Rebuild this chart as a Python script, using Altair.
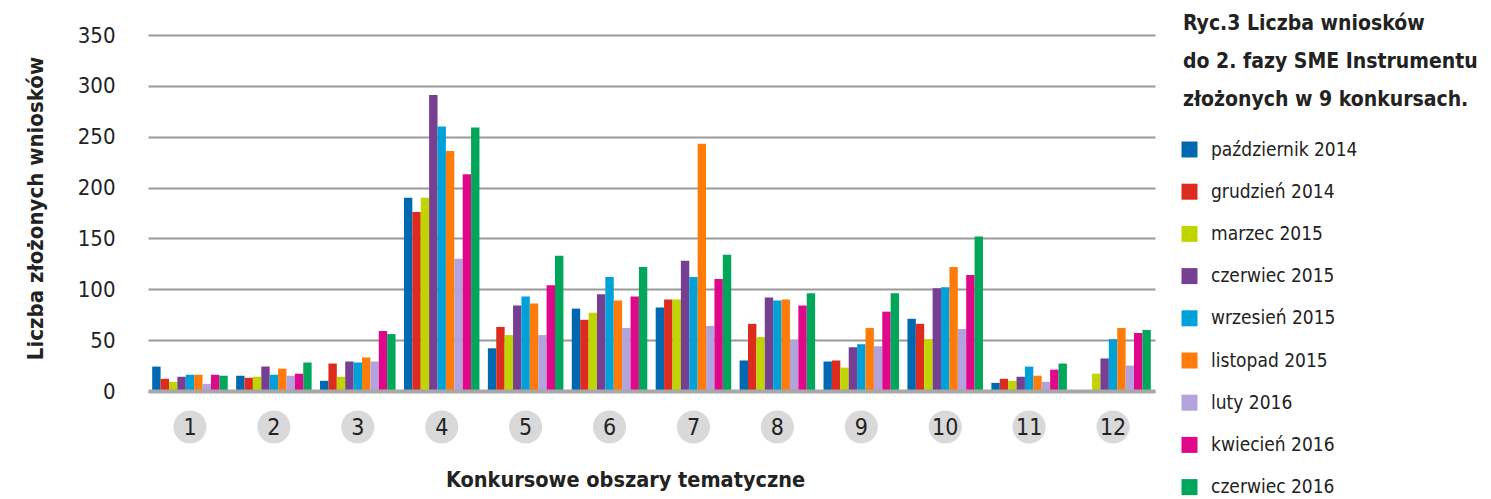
import altair as alt
import pandas as pd

groups = ["1", "2", "3", "4", "5", "6", "7", "8", "9", "10", "11", "12"]
series = ["październik 2014", "grudzień 2014", "marzec 2015", "czerwiec 2015",
          "wrzesień 2015", "listopad 2015", "luty 2016", "kwiecień 2016", "czerwiec 2016"]
colors = ["#0068b1", "#dc2b1f", "#bfd400", "#773f91", "#00a0d8",
          "#ff7b0a", "#b2a3dd", "#df088a", "#00a65a"]

# values per series, over groups 1..12
paz2014 = [24, 15, 10, 190, 42, 81, 82, 30, 29, 71, 8, 0]
gru2014 = [12, 13, 27, 176, 63, 70, 90, 66, 30, 66, 12, 0]
mar2015 = [9, 14, 14, 190, 55, 77, 90, 53, 23, 51, 10, 17]
cze2015 = [14, 24, 29, 291, 84, 95, 128, 92, 43, 101, 14, 32]
wrz2015 = [16, 16, 28, 260, 93, 112, 112, 89, 46, 102, 24, 51]
lis2015 = [16, 22, 33, 236, 86, 89, 243, 90, 62, 122, 15, 62]
lut2016 = [7, 15, 29, 130, 55, 62, 64, 50, 44, 61, 9, 25]
kwi2016 = [16, 17, 59, 213, 104, 93, 110, 84, 78, 114, 21, 57]
cze2016 = [15, 28, 56, 259, 133, 122, 134, 96, 96, 152, 27, 60]

all_vals = [paz2014, gru2014, mar2015, cze2015, wrz2015, lis2015, lut2016, kwi2016, cze2016]

rows = []
for s, vals in zip(series, all_vals):
    for g, v in zip(groups, vals):
        rows.append({"obszar": g, "konkurs": s, "liczba": v})
df = pd.DataFrame(rows)
circ_df = pd.DataFrame({"obszar": groups})

title_lines = ["Ryc.3 Liczba wniosków", "do 2. fazy SME Instrumentu", "złożonych w 9 konkursach."]
title_df = pd.DataFrame({"t": [0]})

FONT = "DejaVu Sans Condensed, Liberation Sans Narrow, Roboto, sans-serif"
W, H = 1007, 356

xscale = alt.Scale(domain=groups, paddingInner=0.1, paddingOuter=0.05)

bars = alt.Chart(df).mark_bar().encode(
    x=alt.X("obszar:N", scale=xscale, sort=groups,
            axis=alt.Axis(title="Konkursowe obszary tematyczne", labelAngle=0,
                          labelFontSize=23, labelColor="#222", labelBaseline="middle",
                          labelPadding=36, ticks=False, tickSize=0,
                          domainColor="#a8a8a8", domainWidth=4, zindex=1,
                          titleFontSize=21.5, titleFontWeight="bold", titleColor="#222",
                          titleX=477, titleY=89, titleBaseline="middle")),
    xOffset=alt.XOffset("konkurs:N", sort=series, scale=alt.Scale(domain=series)),
    y=alt.Y("liczba:Q", scale=alt.Scale(domain=[0, 350]),
            axis=alt.Axis(values=[0, 50, 100, 150, 200, 250, 300, 350],
                          title="Liczba złożonych wniosków", domain=False, ticks=False,
                          labelFontSize=22, labelColor="#222", labelPadding=33,
                          gridColor="#9a9a9a", gridWidth=2,
                          titleFontSize=22, titleFontWeight="bold", titleColor="#222",
                          titleX=-113, titleY=173, titleAngle=-90,
                          titleAlign="center", titleBaseline="middle")),
    color=alt.Color("konkurs:N", sort=series,
                    scale=alt.Scale(domain=series, range=colors),
                    legend=alt.Legend(title=None, orient="none", legendX=1032, legendY=105,
                                      symbolType="square", symbolSize=256,
                                      symbolStrokeWidth=0,
                                      labelFontSize=19, labelColor="#222",
                                      labelOffset=12, rowPadding=22.2)),
)

circles = alt.Chart(circ_df).mark_point(filled=True, shape="circle", size=1100,
                                        color="#d9d9d9", opacity=1).encode(
    x=alt.X("obszar:N", sort=groups, scale=xscale),
    y=alt.value(H + 36),
)

title = alt.Chart(title_df).mark_text(
    text=title_lines, align="left", baseline="top", fontSize=21, fontWeight="bold",
    color="#222", lineHeight=38, font=FONT,
).encode(x=alt.value(1035), y=alt.value(-22))

chart = alt.layer(bars, circles, title).properties(
    width=W, height=H,
    padding={"left": 140, "top": 27, "right": 328, "bottom": 107},
    autosize=alt.AutoSizeParams(type="none"),
).configure(font=FONT).configure_view(stroke=None)

chart.save("out.html", embed_options={"renderer": "svg", "actions": False})
